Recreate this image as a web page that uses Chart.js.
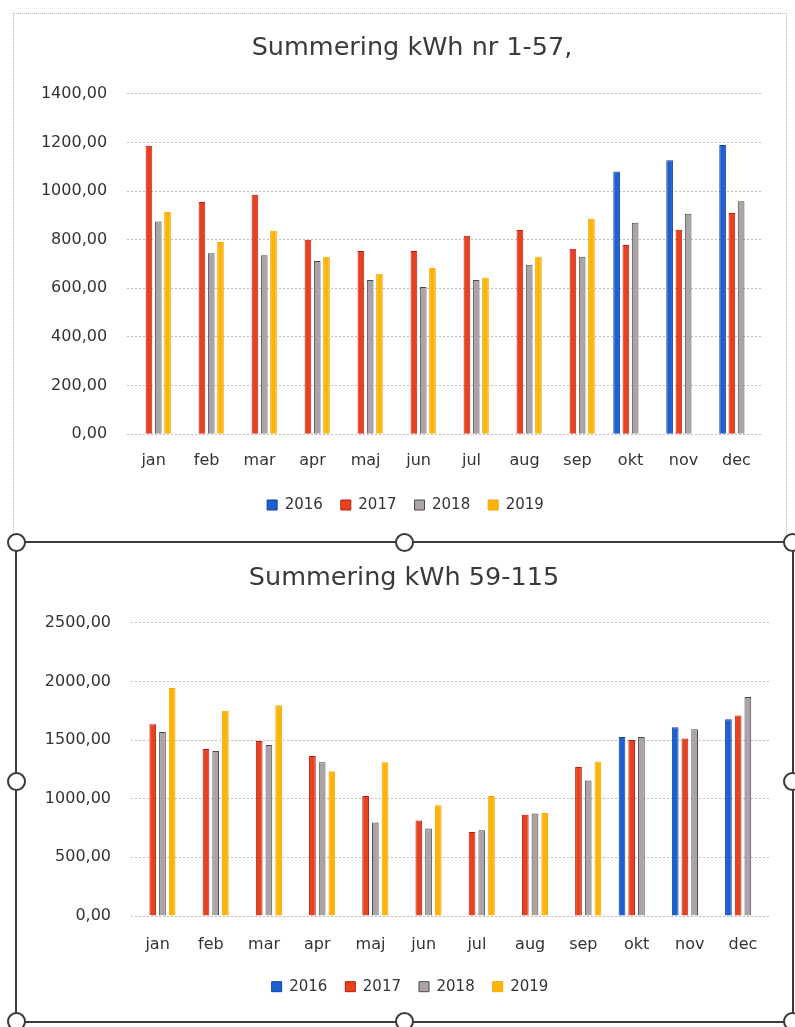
<!DOCTYPE html>
<html>
<head>
<meta charset="utf-8">
<script src="https://cdn.jsdelivr.net/npm/chart.js@4/dist/chart.umd.min.js"></script>
<style>
  body { margin: 0; background: #fff; width: 795px; height: 1027px; position: relative; overflow: hidden; }
  .frame1 { position: absolute; left: 13px; top: 13px; width: 772px; height: 528px; border: 1px dotted #b5b5b5; border-bottom: none; }
  .frame2 { position: absolute; left: 15px; top: 541px; width: 775px; height: 478px; border: 2px solid #3a3a3a; }
  .handle { position: absolute; width: 15px; height: 15px; border: 2px solid #3a3a3a; border-radius: 50%; background: #fff; z-index: 5; }
  canvas { position: absolute; }
</style>
</head>
<body>
<div class="frame1"></div>
<div class="frame2"></div>
<canvas id="top" width="771" height="526" style="left:14px;top:14px"></canvas>
<canvas id="bottom" width="772" height="476" style="left:18px;top:544px"></canvas>

<script>
// data
const months = ['jan', 'feb', 'mar', 'apr', 'maj', 'jun', 'jul', 'aug', 'sep', 'okt', 'nov', 'dec'];
const years = ['2016', '2017', '2018', '2019'];

// Summering kWh nr 1-57
const top2016 = [null, null, null, null, null, null, null, null, null, 1080, 1126, 1189];
const top2017 = [1186, 955, 985, 800, 753, 753, 816, 840, 763, 778, 841, 910];
const top2018 = [875, 744, 736, 712, 634, 605, 634, 697, 730, 870, 907, 958];
const top2019 = [914, 790, 837, 730, 660, 684, 644, 730, 886, null, null, null];
const topTicks = [0, 200, 400, 600, 800, 1000, 1200, 1400];

// Summering kWh 59-115
const bot2016 = [null, null, null, null, null, null, null, null, null, 1526, 1609, 1677];
const bot2017 = [1634, 1423, 1491, 1363, 1023, 814, 717, 863, 1269, 1500, 1514, 1709];
const bot2018 = [1568, 1406, 1457, 1311, 797, 746, 731, 874, 1154, 1526, 1591, 1866];
const bot2019 = [1943, 1749, 1797, 1234, 1311, 943, 1023, 877, 1317, null, null, null];
const botTicks = [0, 500, 1000, 1500, 2000, 2500];

const fills = ['#1d5fd1', '#e6421b', '#aba3a8', '#fdb40a'];
const edges = ['#123f9e', '#c0161a', '#4a4a4a', '#f2a900'];

Chart.defaults.font.family = 'DejaVu Sans';
Chart.defaults.color = '#333';

function fmt(v) {
  return v.toFixed(2).replace('.', ',');
}

// title and legend in the original are not centred on the canvas, move them sideways
const nudge = {
  id: 'nudge',
  afterLayout(chart, args, opts) {
    [[chart.titleBlock, opts.title], [chart.legend, opts.legend]].forEach(([box, dx]) => {
      if (box && dx) { box.left += dx; box.right += dx; }
    });
  }
};

function buildChart(id, title, series, yTicks, g) {
  new Chart(document.getElementById(id), {
    type: 'bar',
    data: {
      labels: months,
      datasets: years.map((y, i) => ({
        label: y,
        data: series[i],
        backgroundColor: fills[i],
        borderColor: edges[i],
        borderWidth: 1,
        categoryPercentage: g.cat,
        barPercentage: g.bar
      }))
    },
    plugins: [nudge],
    options: {
      responsive: false,
      animation: false,
      layout: { padding: { left: 0, right: g.padR, top: g.padT, bottom: g.padB } },
      plugins: {
        nudge: { title: g.titleDx, legend: g.legendDx },
        title: {
          display: true,
          text: title,
          color: '#3a3a3a',
          font: { size: 25.5, weight: 'normal', lineHeight: 1.2 },
          padding: { top: 0, bottom: g.titleGap }
        },
        legend: {
          position: 'bottom',
          labels: { boxWidth: 10, boxHeight: 10, padding: 18, color: '#333', font: { size: 15 } }
        },
        tooltip: { enabled: false }
      },
      scales: {
        x: {
          grid: { display: false },
          border: { display: false },
          ticks: { color: '#333', font: { size: 16 }, padding: g.xPad },
          afterFit(s) { s.height = g.xH; }
        },
        y: {
          min: 0,
          max: yTicks[yTicks.length - 1],
          border: { display: false, dash: [2, 2] },
          grid: { color: '#bdbdbd', drawTicks: false },
          ticks: { color: '#333', font: { size: 16 }, padding: 20, callback: v => fmt(v) },
          afterBuildTicks(s) { s.ticks = yTicks.map(v => ({ value: v })); },
          afterFit(s) { s.width = g.yW; }
        }
      }
    }
  });
}

buildChart('top', 'Summering kWh nr 1-57,', [top2016, top2017, top2018, top2019], topTicks,
  { padR: 22, padT: 18.7, padB: 17.5, titleGap: 30.4, xH: 45.2, xPad: 9, yW: 113.1,
    titleDx: 23.5, legendDx: 17, cat: 0.70, bar: 0.72 });

buildChart('bottom', 'Summering kWh 59-115', [bot2016, bot2017, bot2018, bot2019], botTicks,
  { padR: 20.4, padT: 19, padB: 15.8, titleGap: 29.1, xH: 45.2, xPad: 11.4, yW: 113,
    titleDx: 10.2, legendDx: 16.2, cat: 0.73, bar: 0.69 });

// selection handles around the lower chart
[[16, 542], [404, 542], [792, 542], [16, 781], [792, 781], [16, 1021], [404, 1021], [792, 1021]].forEach(p => {
  const h = document.createElement('div');
  h.className = 'handle';
  h.style.left = (p[0] - 9.5) + 'px';
  h.style.top = (p[1] - 9.5) + 'px';
  document.body.appendChild(h);
});
</script>
</body>
</html>
